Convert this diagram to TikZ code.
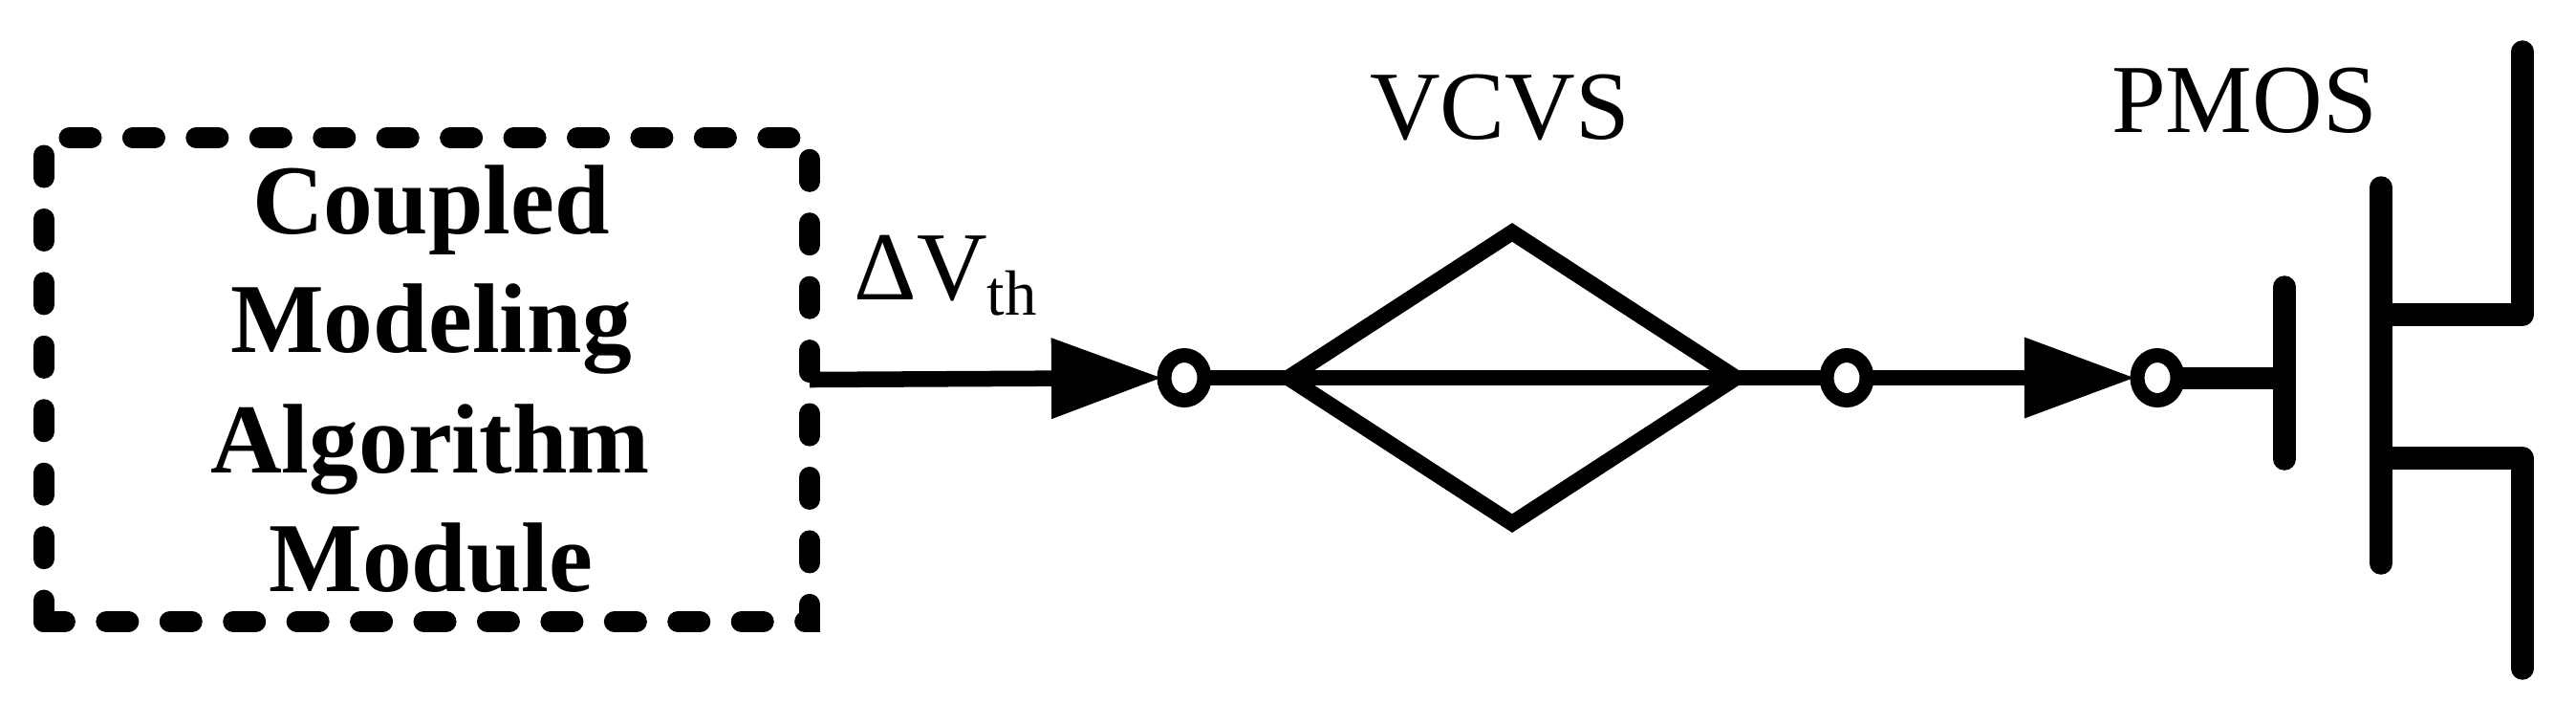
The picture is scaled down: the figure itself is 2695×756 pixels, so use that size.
\documentclass[tikz,border=0pt]{standalone}
\usepackage{fontspec}
\setmainfont{Liberation Serif}
\usetikzlibrary{arrows.meta, shapes.geometric}
\tikzset{
	label29/.style={font=\fontsize{29}{35}\selectfont, anchor=base, inner sep=0pt},
	boldlabel/.style={label29, font=\fontsize{29.4}{35}\selectfont\bfseries},
	dashbox/.style={line width=0.22cm, line cap=round, dash pattern=on 0.23cm off 0.434cm},
	wire/.style={line width=0.165cm},
	bigarrow/.style={wire, shorten >=0.02cm, -{Triangle[length=1.16cm, width=0.8cm]}},
	ring/.style={ellipse, draw, line width=0.15cm, minimum width=0.42cm, minimum height=0.47cm, inner sep=0pt, outer sep=0pt},
	mosline/.style={line width=0.235cm, line cap=round, line join=round},
}
\begin{document}
\begin{tikzpicture}[x=0.01cm, y=-0.01cm]
	\useasboundingbox (0,0) rectangle (2695,756);
	\def\wy{395}
	
	% Dashed module box
	\draw[dashbox] (72.5,144) -- (847,144) -- (847,650) -- (46,650);
	\draw[dashbox] (46,162.5) -- (46,650);
	
	\node[boldlabel] (coupled) at (451,244) {Coupled};
	\node[boldlabel] (modeling) at (451,368) {Modeling};
	\node[boldlabel] (algorithm) at (450,494) {Algorithm};
	\node[boldlabel] (module) at (451,618) {Module};
	
	\node[label29, anchor=base west] (dvth) at (893,313) {ΔV\raisebox{-0.16cm}{\fontsize{19}{21}\selectfont th}};
	
	% Signal path
	\coordinate (boxout) at (847,397);
	\node[ring] (ringa) at (1239,\wy) {};
	\node[ring] (ringb) at (1932,\wy) {};
	\node[ring] (ringc) at (2257,\wy) {};
	\node[diamond, draw, line width=0.165cm, minimum width=4.68cm, minimum height=3.04cm, inner sep=0pt, outer sep=0pt] (vcvs) at (1582,\wy) {};
	
	\node[label29] (vcvslabel) at (1569,145) {VCVS};
	\node[label29] (pmoslabel) at (2348,138) {PMOS};
	
	\draw[bigarrow] (boxout) -- (ringa.west);
	\draw[wire] (ringa) -- (vcvs.west) -- (vcvs.east) -- (ringb);
	\draw[bigarrow] (ringb) -- (ringc.west);
	
	% PMOS symbol
	\coordinate (gate) at (2390,\wy);
	\draw[line width=0.23cm] (ringc) -- (gate);
	\draw[mosline] (2390,300) -- (2390,480);
	\draw[mosline] (2491,196) -- (2491,589);
	\draw[mosline] (2639,54) -- (2639,329) -- (2491,329);
	\draw[mosline] (2639,699) -- (2639,479) -- (2491,479);
\end{tikzpicture}
\end{document}
